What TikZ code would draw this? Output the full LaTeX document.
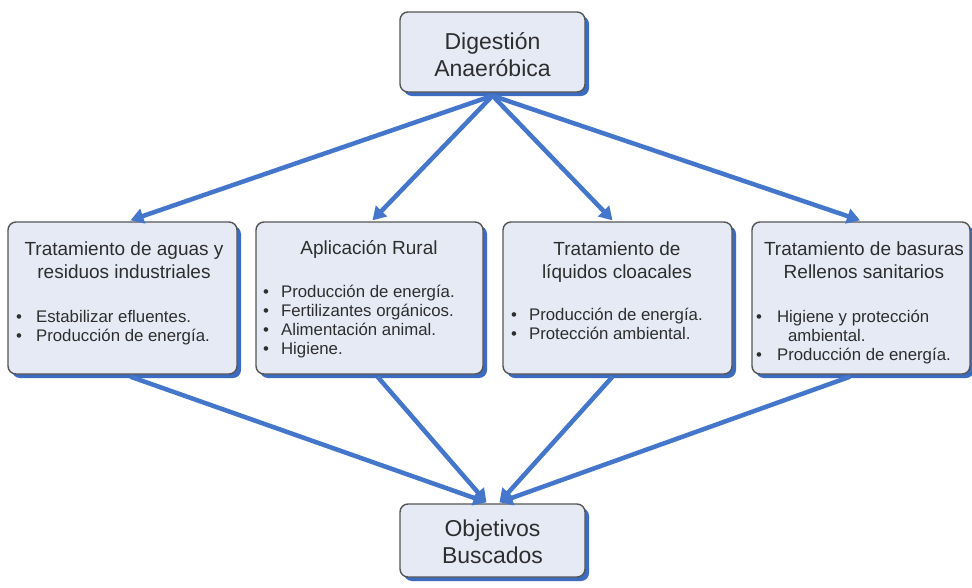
\documentclass[tikz,border=0pt]{standalone}
\usepackage{fontspec}
\setmainfont{Liberation Sans}
\usetikzlibrary{arrows.meta,shadows,calc}
\definecolor{boxfill}{HTML}{E5EAF5}
\definecolor{boxline}{HTML}{555555}
\definecolor{shadowblue}{HTML}{3C6BC2}
\definecolor{arrowblue}{HTML}{4477CC}
\definecolor{txt}{HTML}{2E2E2E}
\begin{document}
\begin{tikzpicture}[x=1pt,y=-1pt,
  box/.style={draw=boxline, line width=1.4pt, fill=boxfill, rounded corners=8pt,
    drop shadow={shadow xshift=4pt, shadow yshift=-4pt, fill=shadowblue, opacity=1},
    inner sep=0pt},
  titletext/.style={text=txt, align=center, font=\fontsize{23}{27}\selectfont},
  headtext/.style={text=txt, align=center, anchor=base, inner sep=0pt, font=\fontsize{19}{23}\selectfont},
  listtext/.style={text=txt, anchor=base west, inner sep=0pt, align=left, font=\fontsize{16.8}{19.3}\selectfont},
  link/.style={draw=arrowblue, line width=4.5pt, -{Triangle[length=13pt,width=15pt]}}
]
\useasboundingbox (0,0) rectangle (972,587);
\fill[white] (0,0) rectangle (972,587);

% boxes
\node[box, minimum width=185pt, minimum height=80pt] (top) at (492.5,52) {};
\node[titletext] (toptxt) at (492.5,55) {Digestión\\Anaeróbica};

\node[box, minimum width=229pt, minimum height=152pt] (b1) at (122.5,298) {};
\node[box, minimum width=227pt, minimum height=152pt] (b2) at (369.5,298) {};
\node[box, minimum width=229pt, minimum height=152pt] (b3) at (617.5,298) {};
\node[box, minimum width=218pt, minimum height=152pt] (b4) at (861,298) {};

\node[box, minimum width=185pt, minimum height=73pt] (bot) at (492.5,540.5) {};
\node[titletext] (bottxt) at (492.5,542) {Objetivos\\Buscados};

% headers (anchor = baseline of last line)
\node[headtext] (h1) at (124,278) {Tratamiento de aguas y\\residuos industriales};
\node[headtext] (h2) at (369,254) {Aplicación Rural};
\node[headtext] (h3) at (617,278) {Tratamiento de\\líquidos cloacales};
\node[headtext] (h4) at (864,278) {Tratamiento de basuras\\Rellenos sanitarios};

% bullet lists (anchor = baseline of first line)
\node[listtext] (l1) at (16,322) {\begin{tabular}[t]{@{}l@{\hspace{14pt}}l@{}}•&Estabilizar efluentes.\\•&Producción de energía.\end{tabular}};
\node[listtext] (l2) at (263,297) {\begin{tabular}[t]{@{}l@{\hspace{12pt}}l@{}}•&Producción de energía.\\•&Fertilizantes orgánicos.\\•&Alimentación animal.\\•&Higiene.\end{tabular}};
\node[listtext] (l3) at (511,320) {\begin{tabular}[t]{@{}l@{\hspace{12pt}}l@{}}•&Producción de energía.\\•&Protección ambiental.\end{tabular}};
\node[listtext] (l4) at (756,322) {\begin{tabular}[t]{@{}l@{\hspace{15pt}}l@{}}•&Higiene y protección\\&\hspace*{11pt}ambiental.\\•&Producción de energía.\end{tabular}};

% connector points
\coordinate (src) at ($(top.south)+(0,3)$);
\coordinate (t1) at ($(b1.north)+(8,-1)$);
\coordinate (t2) at ($(b2.north)+(3,-1)$);
\coordinate (t3) at ($(b3.north)+(-5,-1)$);
\coordinate (t4) at ($(b4.north)+(-1,-1)$);
\coordinate (s1) at ($(b1.south)+(8,2)$);
\coordinate (s2) at ($(b2.south)+(8,2)$);
\coordinate (s3) at ($(b3.south)+(-5,2)$);
\coordinate (s4) at ($(b4.south)+(-11,2)$);
\coordinate (e1) at ($(bot.north)+(-6,-1)$);
\coordinate (e2) at ($(bot.north)+(7,-1)$);

\draw[link] (src) -- (t1);
\draw[link] (src) -- (t2);
\draw[link] (src) -- (t3);
\draw[link] (src) -- (t4);
\draw[link] (s1) -- (e1);
\draw[link] (s2) -- (e1);
\draw[link] (s3) -- (e2);
\draw[link] (s4) -- (e2);
\end{tikzpicture}
\end{document}
